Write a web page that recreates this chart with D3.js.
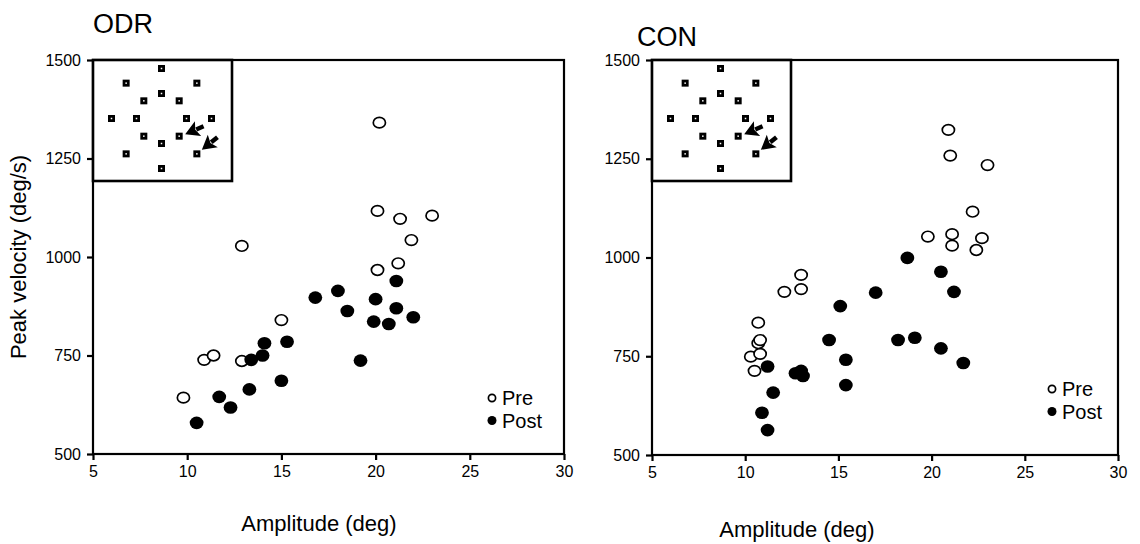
<!DOCTYPE html>
<html>
<head>
<meta charset="utf-8">
<script src="https://cdn.jsdelivr.net/npm/d3@7"></script>
<style>
  body { margin: 0; background: #fff; }
  svg { display: block; font-family: "Liberation Sans", Arial, sans-serif; }
</style>
</head>
<body>
<svg id="chart" width="1140" height="544"></svg>
<script>
// ---- data ----
var xTicks = [5, 10, 15, 20, 25, 30];
var yTicks = [500, 750, 1000, 1250, 1500];

// ODR panel
var odrPre = [
    [9.8, 643], [10.9, 739], [11.4, 750], [12.9, 736], [12.9, 1028], [15.0, 840],
    [20.1, 967], [20.1, 1117], [20.2, 1341], [21.2, 984], [21.3, 1097], [21.9, 1043], [23.0, 1105]
];
var odrPost = [
    [10.5, 579], [11.7, 645], [12.3, 618], [13.3, 664], [13.4, 739], [14.0, 750],
    [14.1, 781], [15.0, 686], [15.3, 785], [16.8, 897], [18.0, 914], [18.5, 863],
    [19.2, 737], [19.9, 836], [20.0, 893], [20.7, 830], [21.1, 939], [21.1, 870], [22.0, 847]
];

// CON panel
var conPre = [
    [10.3, 749], [10.5, 713], [10.7, 835], [10.7, 783], [10.8, 791], [10.8, 756],
    [12.1, 913], [13.0, 956], [13.0, 920], [19.8, 1053], [20.9, 1323], [21.0, 1258],
    [21.1, 1059], [21.1, 1030], [22.2, 1116], [22.4, 1019], [22.7, 1049], [23.0, 1234]
];
var conPost = [
    [10.9, 607], [11.2, 563], [11.2, 724], [11.5, 658], [12.7, 707], [13.0, 713],
    [13.1, 700], [14.5, 791], [15.1, 877], [15.4, 741], [15.4, 677], [17.0, 911],
    [18.2, 791], [18.7, 999], [19.1, 797], [20.5, 770], [20.5, 964], [21.2, 913], [21.7, 733]
];

// inset: target layout (amplitude in deg, direction in degrees)
var targetAmps = [10, 20];
var targetDirs = [0, 45, 90, 135, 180, 225, 270, 315];
var testedDir = 315;   // lower right, marked by the arrows

var legendLabels = ["Pre", "Post"];

var panels = [
    { title: "ODR", pre: odrPre, post: odrPost, left: 93, right: 564, top: 60, bottom: 454,
      titleX: 93, titleY: 33, xTitleX: 319, xTitleY: 531, legX: 492, legY: 398, yTitle: true },
    { title: "CON", pre: conPre, post: conPost, left: 652, right: 1118, top: 60, bottom: 455,
      titleX: 637, titleY: 46, xTitleX: 797, xTitleY: 537, legX: 1052, legY: 389, yTitle: false }
];

var svg = d3.select("#chart");

panels.forEach(function (p) {

    var x = d3.scaleLinear().domain([5, 30]).range([p.left, p.right]);
    var y = d3.scaleLinear().domain([500, 1500]).range([p.bottom, p.top]);

    var g = svg.append("g");

    // frame
    g.append("rect")
        .attr("x", p.left).attr("y", p.top)
        .attr("width", p.right - p.left).attr("height", p.bottom - p.top)
        .attr("fill", "none").attr("stroke", "#000").attr("stroke-width", 2.2);

    // axes
    var xAxis = g.append("g")
        .attr("transform", "translate(0," + p.bottom + ")")
        .call(d3.axisBottom(x).tickValues(xTicks).tickFormat(d3.format("d")).tickSize(6).tickPadding(6));
    var yAxis = g.append("g")
        .attr("transform", "translate(" + p.left + ",0)")
        .call(d3.axisLeft(y).tickValues(yTicks).tickFormat(d3.format("d")).tickSize(6).tickPadding(6));

    [xAxis, yAxis].forEach(function (a) {
        a.attr("font-size", 16).attr("font-family", "'Liberation Sans', Arial, sans-serif");
        a.select(".domain").remove();
        a.selectAll("line").attr("stroke", "#000").attr("stroke-width", 2.2);
        a.selectAll("text").attr("fill", "#000");
    });

    // titles
    g.append("text")
        .attr("x", p.titleX).attr("y", p.titleY)
        .attr("font-size", 27)
        .text(p.title);

    g.append("text")
        .attr("x", p.xTitleX).attr("y", p.xTitleY)
        .attr("text-anchor", "middle")
        .attr("font-size", 22)
        .text("Amplitude (deg)");

    if (p.yTitle) {
        g.append("text")
            .attr("transform", "translate(26," + ((p.top + p.bottom) / 2) + ") rotate(-90)")
            .attr("text-anchor", "middle")
            .attr("font-size", 22)
            .text("Peak velocity (deg/s)");
    }

    // inset with target layout
    var insetW = 139, insetH = 121;
    var inset = g.append("g").attr("transform", "translate(" + p.left + "," + p.top + ")");
    inset.append("rect")
        .attr("width", insetW).attr("height", insetH)
        .attr("fill", "#fff").attr("stroke", "#000").attr("stroke-width", 2.6);

    var r = d3.scaleLinear().domain([0, 20]).range([0, 50]);
    var cx = insetW / 2 - 1, cy = insetH / 2 - 2;
    var targets = [];
    targetAmps.forEach(function (a) {
        targetDirs.forEach(function (d) {
            var rad = d * Math.PI / 180;
            targets.push({ amp: a, dir: d, x: cx + r(a) * Math.cos(rad), y: cy - r(a) * Math.sin(rad) });
        });
    });

    inset.selectAll("rect.tgt")
        .data(targets).enter().append("rect")
        .attr("class", "tgt")
        .attr("x", function (d) { return d.x - 3.5; })
        .attr("y", function (d) { return d.y - 3.5; })
        .attr("width", 7).attr("height", 7)
        .attr("fill", "#000");
    inset.selectAll("rect.dot")
        .data(targets).enter().append("rect")
        .attr("class", "dot")
        .attr("x", function (d) { return d.x - 0.75; })
        .attr("y", function (d) { return d.y - 0.75; })
        .attr("width", 1.5).attr("height", 1.5)
        .attr("fill", "#fff");

    // arrows pointing at the tested targets
    var arrows = targets.filter(function (d) { return d.dir === testedDir; });
    var arrowSpecs = [
        { t: arrows[0], dx: 6, dy: -2, ang: Math.atan2(6, -14) },
        { t: arrows[1], dx: 5, dy: -4, ang: Math.atan2(12, -15) }
    ];
    arrowSpecs.forEach(function (a) {
        var tipX = a.t.x + a.dx, tipY = a.t.y + a.dy;
        var ux = Math.cos(a.ang), uy = Math.sin(a.ang);
        var nx = -uy, ny = ux;
        var headLen = 14, headW = 8, tail = 20;
        var bx = tipX - ux * headLen, by = tipY - uy * headLen;
        inset.append("line")
            .attr("x1", tipX - ux * tail).attr("y1", tipY - uy * tail)
            .attr("x2", bx + ux * 2).attr("y2", by + uy * 2)
            .attr("stroke", "#000").attr("stroke-width", 4.5);
        inset.append("path")
            .attr("d", "M" + tipX + "," + tipY +
                "L" + (bx + nx * headW) + "," + (by + ny * headW) +
                "L" + (bx + ux * 3) + "," + (by + uy * 3) +
                "L" + (bx - nx * headW) + "," + (by - ny * headW) + "Z")
            .attr("fill", "#000");
    });

    // data points
    g.selectAll("ellipse.pre")
        .data(p.pre).enter().append("ellipse")
        .attr("class", "pre")
        .attr("cx", function (d) { return x(d[0]); })
        .attr("cy", function (d) { return y(d[1]); })
        .attr("rx", 6.1).attr("ry", 5.3)
        .attr("fill", "#fff").attr("stroke", "#000").attr("stroke-width", 1.7);

    g.selectAll("ellipse.post")
        .data(p.post).enter().append("ellipse")
        .attr("class", "post")
        .attr("cx", function (d) { return x(d[0]); })
        .attr("cy", function (d) { return y(d[1]); })
        .attr("rx", 6.9).attr("ry", 6.3)
        .attr("fill", "#000");

    // legend
    var leg = g.append("g").attr("transform", "translate(" + p.legX + "," + p.legY + ")");
    legendLabels.forEach(function (label, i) {
        leg.append("circle")
            .attr("cx", 0).attr("cy", i * 22.5)
            .attr("r", i === 0 ? 3.6 : 4.5)
            .attr("fill", i === 0 ? "#fff" : "#000")
            .attr("stroke", "#000").attr("stroke-width", i === 0 ? 1.7 : 0);
        leg.append("text")
            .attr("x", 10).attr("y", i * 22.5 + 7)
            .attr("font-size", 20)
            .text(label);
    });
});
</script>
</body>
</html>
